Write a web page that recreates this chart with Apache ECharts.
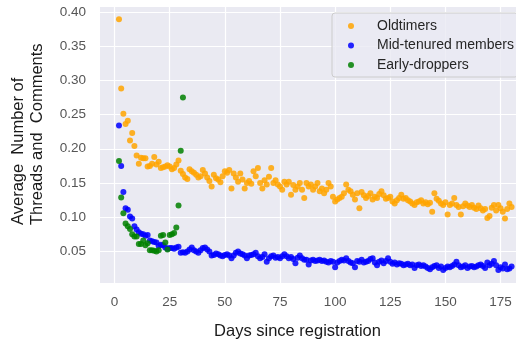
<!DOCTYPE html>
<html>
<head>
<meta charset="utf-8">
<script src="https://cdn.jsdelivr.net/npm/echarts@6/dist/echarts.min.js"></script>
<style>
  html, body { margin: 0; padding: 0; background: #fff; }
  #chart { width: 516px; height: 345px; }
</style>
</head>
<body>
<div id="chart"></div>
<script>
// daily averages, first value belongs to the start day
const oldStart = 2;
const oldtimers = [
  0.389, 0.288, 0.251, 0.236, 0.241, 0.212, 0.223, 0.204, 0.190, 0.178,
  0.187, 0.186, 0.186, 0.174, 0.175, 0.178, 0.188, 0.177, 0.181, 0.172,
  0.173, 0.174, 0.176, 0.174, 0.170, 0.172, 0.177, 0.183, 0.168, 0.163,
  0.158, 0.156, 0.170, 0.167, 0.165, 0.162, 0.158, 0.160, 0.169, 0.164,
  0.158, 0.153, 0.145, 0.162, 0.157, 0.155, 0.151, 0.160, 0.167, 0.165,
  0.169, 0.142, 0.164, 0.158, 0.152, 0.164, 0.155, 0.142, 0.150, 0.153,
  0.149, 0.167, 0.160, 0.172, 0.150, 0.142, 0.154, 0.148, 0.159, 0.172,
  0.150, 0.154, 0.148, 0.145, 0.140, 0.152, 0.148, 0.152, 0.133, 0.147,
  0.140, 0.145, 0.150, 0.140, 0.128, 0.150, 0.145, 0.148, 0.140, 0.145,
  0.150, 0.138, 0.142, 0.135, 0.140, 0.150, 0.145, 0.130, 0.123, 0.126,
  0.128, 0.130, 0.135, 0.148, 0.140, 0.138, 0.133, 0.126, 0.135, 0.113,
  0.137, 0.132, 0.128, 0.131, 0.135, 0.126, 0.130, 0.128, 0.134, 0.138,
  0.132, 0.127, 0.128, 0.130, 0.123, 0.120, 0.125, 0.128, 0.133, 0.127,
  0.128, 0.125, 0.123, 0.120, 0.118, 0.122, 0.123, 0.125, 0.120, 0.122,
  0.119, 0.121, 0.108, 0.135, 0.127, 0.124, 0.120, 0.118, 0.122, 0.104,
  0.118, 0.120, 0.128, 0.118, 0.115, 0.104, 0.116, 0.120, 0.117, 0.115,
  0.118, 0.114, 0.112, 0.117, 0.113, 0.110, 0.112, 0.099, 0.102, 0.114,
  0.118, 0.110, 0.118, 0.113, 0.108, 0.098, 0.112, 0.120, 0.115
];

const midStart = 2;
const midTenured = [
  0.234, 0.175, 0.137, 0.113, 0.111, 0.101, 0.098, 0.087, 0.082, 0.078,
  0.076, 0.075, 0.073, 0.074, 0.066, 0.065, 0.064, 0.063, 0.058, 0.060,
  0.059, 0.056, 0.054, 0.055, 0.055, 0.054, 0.056, 0.057, 0.048, 0.049,
  0.048, 0.050, 0.053, 0.056, 0.052, 0.050, 0.048, 0.052, 0.055, 0.056,
  0.053, 0.050, 0.044, 0.045, 0.047, 0.046, 0.044, 0.043, 0.045, 0.046,
  0.044, 0.040, 0.044, 0.048, 0.050, 0.047, 0.046, 0.044, 0.040, 0.044,
  0.045, 0.046, 0.048, 0.043, 0.040, 0.042, 0.046, 0.035, 0.040, 0.043,
  0.044, 0.041, 0.042, 0.040, 0.043, 0.046, 0.043, 0.040, 0.042, 0.039,
  0.033, 0.041, 0.044, 0.040, 0.038, 0.038, 0.031, 0.037, 0.038, 0.036,
  0.037, 0.038, 0.036, 0.037, 0.035, 0.034, 0.036, 0.035, 0.027, 0.034,
  0.036, 0.038, 0.037, 0.040, 0.036, 0.034, 0.033, 0.027, 0.036, 0.035,
  0.038, 0.034, 0.035, 0.036, 0.039, 0.040, 0.034, 0.030, 0.035, 0.037,
  0.033, 0.036, 0.040, 0.035, 0.032, 0.034, 0.031, 0.033, 0.032, 0.030,
  0.031, 0.032, 0.030, 0.031, 0.026, 0.030, 0.031, 0.029, 0.030, 0.028,
  0.026, 0.024, 0.027, 0.029, 0.030, 0.026, 0.028, 0.023, 0.026, 0.028,
  0.027, 0.029, 0.031, 0.035, 0.030, 0.027, 0.028, 0.030, 0.026, 0.028,
  0.029, 0.027, 0.028, 0.030, 0.031, 0.029, 0.026, 0.034, 0.030, 0.032,
  0.036, 0.030, 0.023, 0.027, 0.025, 0.031, 0.024, 0.025, 0.028
];

const earlyStart = 2;
const earlyDroppers = [
  0.182, 0.129, 0.106, 0.091, 0.087, 0.083, 0.075, 0.072, 0.072, 0.061,
  0.061, 0.066, 0.059, 0.062, 0.052, 0.052, 0.051, 0.050, 0.052, 0.073,
  0.074, 0.063, 0.053, 0.074, 0.075, 0.077, 0.085, 0.117, 0.197, 0.275
];

const xTicks = [0, 25, 50, 75, 100, 125, 150, 175];
const yTicks = [0.05, 0.10, 0.15, 0.20, 0.25, 0.30, 0.35, 0.40];
const seriesNames = ['Oldtimers', 'Mid-tenured members', 'Early-droppers'];
const seriesColors = ['#FFA500', '#0000FF', '#008000'];

function toPoints(start, values) {
  return values.map((v, i) => [start + i, v]);
}

const font = '"Liberation Sans", Arial, sans-serif';
const chart = echarts.init(document.getElementById('chart'));

chart.setOption({
  animation: false,
  textStyle: { fontFamily: font },
  grid: {
    left: 100, right: 0, top: 7, bottom: 62,
    show: true, backgroundColor: '#EAEAF2', borderWidth: 0
  },
  legend: {
    data: seriesNames,
    orient: 'vertical',
    left: 332, top: 13,
    padding: [5, 4, 4, 16],
    itemWidth: 6, itemHeight: 6, itemGap: 3.5,
    icon: 'circle',
    backgroundColor: 'rgba(234,234,242,0.8)',
    borderColor: '#cccccc', borderWidth: 1, borderRadius: 3,
    textStyle: {
      fontFamily: font, fontSize: 14, color: '#262626',
      lineHeight: 16, padding: [0, 0, 0, 18]
    }
  },
  xAxis: {
    type: 'value',
    min: -6.6, max: 182,
    axisLine: { show: false },
    axisTick: { show: false, customValues: xTicks },
    axisLabel: {
      customValues: xTicks, margin: 12,
      fontSize: 13.5, color: '#555', fontFamily: font
    },
    splitLine: { show: true, lineStyle: { color: '#ffffff', width: 1.2 } }
  },
  yAxis: {
    type: 'value',
    min: 0.004, max: 0.407,
    axisLine: { show: false },
    axisTick: { show: false, customValues: yTicks },
    axisLabel: {
      customValues: yTicks, margin: 14,
      fontSize: 13.5, color: '#555', fontFamily: font,
      formatter: v => v.toFixed(2)
    },
    splitLine: { show: true, lineStyle: { color: '#ffffff', width: 1.2 } }
  },
  graphic: [
    {
      type: 'text', x: 18, y: 225, rotation: Math.PI / 2,
      style: { text: 'Average  Number of', fontSize: 16.5, fontFamily: font,
        fill: '#1a1a1a', align: 'left', verticalAlign: 'middle' }
    },
    {
      type: 'text', x: 37.5, y: 225, rotation: Math.PI / 2,
      style: { text: 'Threads and  Comments', fontSize: 16.5, fontFamily: font,
        fill: '#1a1a1a', align: 'left', verticalAlign: 'middle' }
    },
    {
      type: 'text', x: 297.5, y: 331,
      style: { text: 'Days since registration', fontSize: 16.5, fontFamily: font,
        fill: '#1a1a1a', align: 'center', verticalAlign: 'middle' }
    }
  ],
  series: [
    { name: seriesNames[0], data: toPoints(oldStart, oldtimers) },
    { name: seriesNames[1], data: toPoints(midStart, midTenured) },
    { name: seriesNames[2], data: toPoints(earlyStart, earlyDroppers) }
  ].map((s, i) => Object.assign(s, {
    type: 'scatter',
    symbolSize: 6,
    itemStyle: { color: seriesColors[i], opacity: 0.85 }
  }))
});
</script>
</body>
</html>
